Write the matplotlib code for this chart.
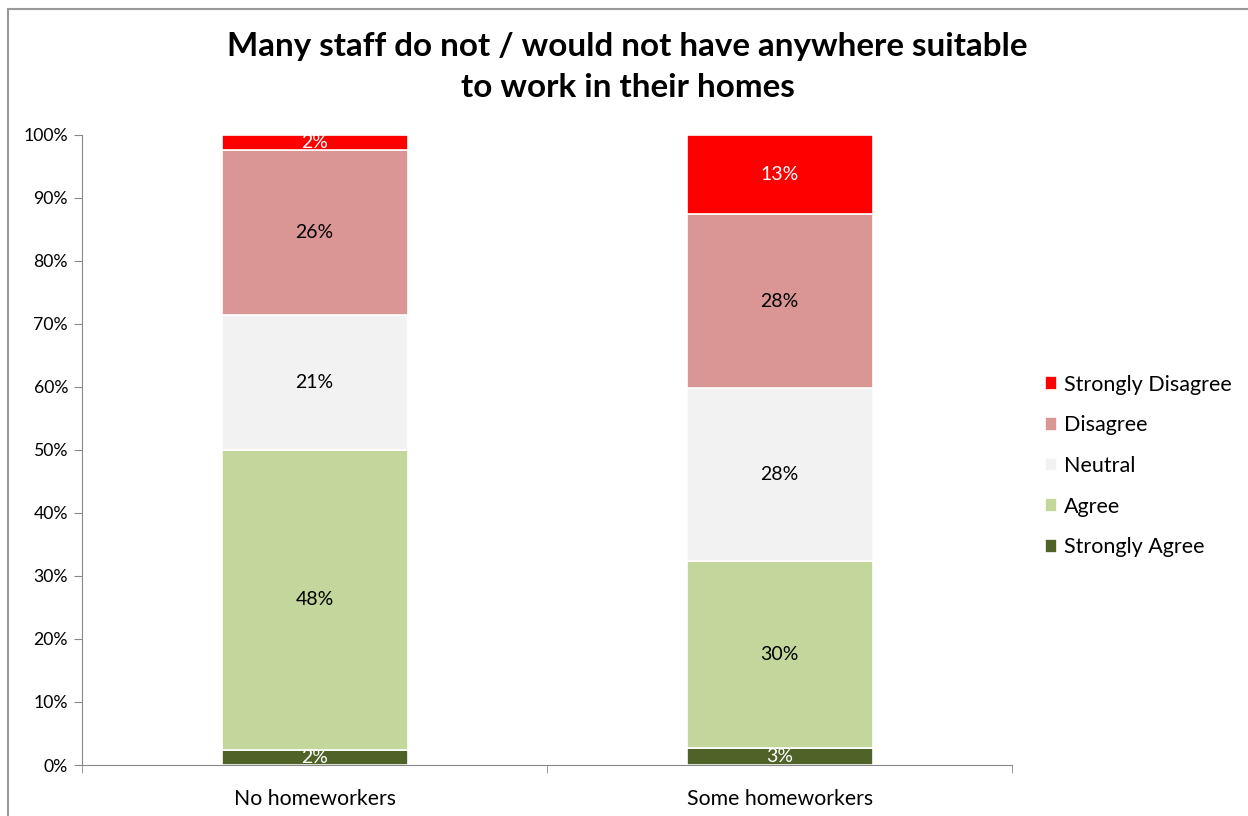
import numpy as np
import matplotlib.pyplot as plt
from matplotlib.lines import Line2D

plt.rcParams['font.family'] = ['Lato', 'DejaVu Sans']

groups = ['No homeworkers', 'Some homeworkers']
responses = ['Strongly Agree', 'Agree', 'Neutral', 'Disagree', 'Strongly Disagree']
values = {
    'Strongly Agree':    [2.4, 2.7],
    'Agree':             [47.6, 29.6],
    'Neutral':           [21.4, 27.5],
    'Disagree':          [26.2, 27.6],
    'Strongly Disagree': [2.4, 12.6],
}
colors = ['#4F6228', '#C3D69B', '#F2F2F2', '#D99694', '#FF0000']
label_colors = ['white', 'black', 'black', 'black', 'white']

fig = plt.figure(figsize=(12.48, 8.16), dpi=100)
ax = fig.add_axes([0.0657, 0.0625, 0.7453, 0.7721])

x = np.arange(len(groups))
bottom = np.zeros(len(groups))
handles = []
for resp, col, lc in zip(responses, colors, label_colors):
    vals = np.array(values[resp])
    bars = ax.bar(x, vals, 0.4, bottom=bottom, color=col, edgecolor='white',
                  linewidth=1.2, label=resp)
    handles.append(bars)
    for xi, v, b in zip(x, vals, bottom):
        ax.text(xi, b + v / 2, f'{v:.0f}%', ha='center', va='center',
                fontsize=14, color=lc)
    bottom += vals

ax.set_xlim(-0.5, 1.5)
ax.set_ylim(0, 100)
ax.set_yticks(np.arange(0, 101, 10))
ax.set_yticklabels([f'{t}%' for t in range(0, 101, 10)], fontsize=12.7)
ax.set_xticks(x)
ax.set_xticklabels(groups, fontsize=15.3)
ax.tick_params(axis='x', length=0, pad=17)
ax.set_xticks([-0.5, 0.5, 1.5], minor=True)
ax.tick_params(axis='x', which='minor', length=6, color='#888888', direction='out')
ax.tick_params(axis='y', length=6, color='#888888', direction='out', pad=4)
for s in ['top', 'right']:
    ax.spines[s].set_visible(False)
for s in ['left', 'bottom']:
    ax.spines[s].set_color('#888888')

fig.text(0.503, 0.918, 'Many staff do not / would not have anywhere suitable\nto work in their homes',
         ha='center', va='center', fontsize=23.9, fontweight='bold', linespacing=1.5)

fig.legend(handles[::-1], responses[::-1], loc='center left',
           bbox_to_anchor=(0.837, 0.429), frameon=False, fontsize=15.5,
           handlelength=0.6, handleheight=0.6, handletextpad=0.3,
           labelspacing=0.96, borderpad=0, borderaxespad=0)

fig.add_artist(Line2D([8 / 1248, 8 / 1248], [0, 1 - 9 / 816], color='#999999', lw=1.5))
fig.add_artist(Line2D([8 / 1248, 1], [1 - 9 / 816, 1 - 9 / 816], color='#999999', lw=1.5))

fig.savefig('out.png', dpi=100)
